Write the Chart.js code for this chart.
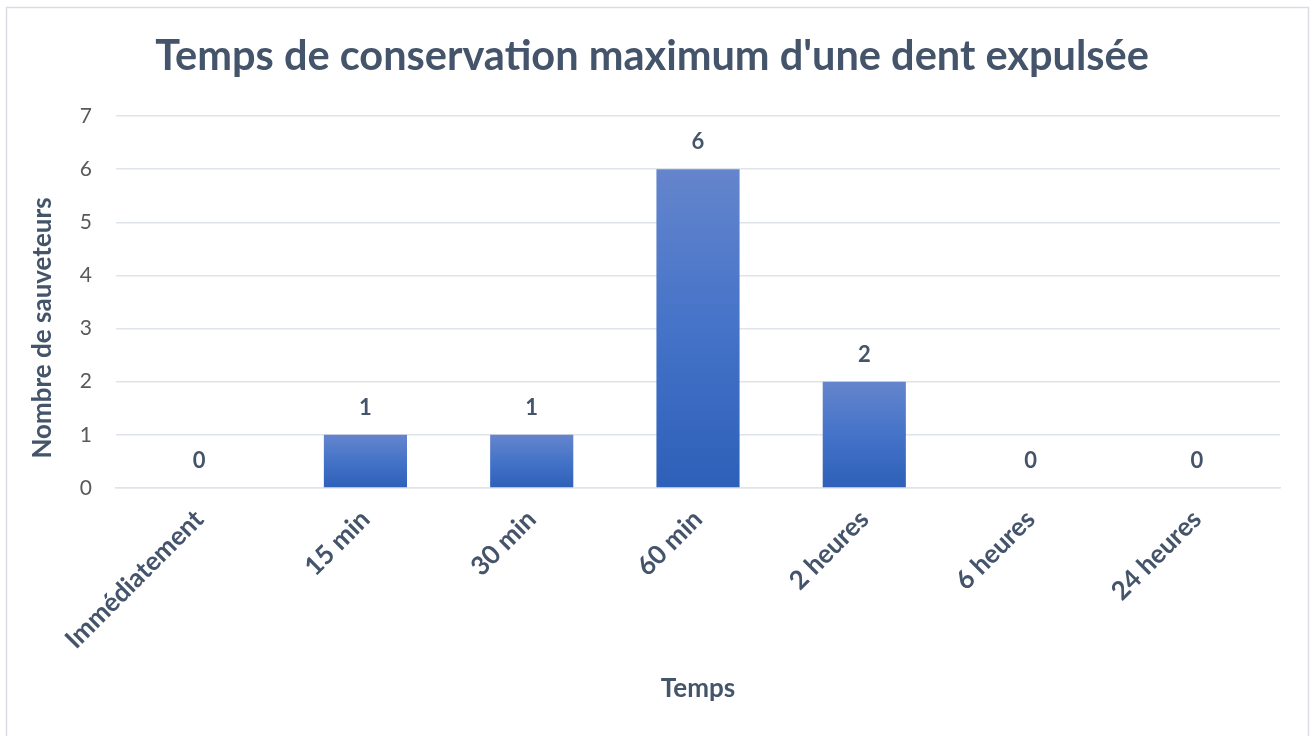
<!DOCTYPE html>
<html>
<head>
<meta charset="utf-8">
<script src="https://cdn.jsdelivr.net/npm/chart.js@4/dist/chart.umd.min.js"></script>
<style>
html,body{margin:0;padding:0;background:#fff;}
#wrap{position:absolute;left:0;top:0;width:1312px;height:736px;}
</style>
</head>
<body>
<div id="wrap"><canvas id="c" width="1312" height="736"></canvas></div>
<script>
const chartTitle = "Temps de conservation maximum d'une dent expulsée";
const categories = ["Immédiatement", "15 min", "30 min", "60 min", "2 heures", "6 heures", "24 heures"];
const counts = [0, 1, 1, 6, 2, 0, 0];
const yTitle = "Nombre de sauveteurs";
const xTitle = "Temps";
const yMin = 0, yMax = 7, yStep = 1;

const FONT = "Lato";
const DARK = "#44546a";

const borderPlugin = {
  id: 'outerBorder',
  beforeDraw(chart) {
    const ctx = chart.ctx;
    ctx.save();
    ctx.fillStyle = '#ffffff';
    ctx.fillRect(0, 0, chart.width, chart.height);
    ctx.strokeStyle = '#d9dde3';
    ctx.lineWidth = 1.5;
    ctx.strokeRect(6.5, 7.5, 1302, 800);
    ctx.restore();
  }
};

const labelPlugin = {
  id: 'valueLabels',
  afterDatasetsDraw(chart) {
    const ctx = chart.ctx;
    const meta = chart.getDatasetMeta(0);
    ctx.save();
    ctx.font = "bold 22px " + FONT;
    ctx.fillStyle = DARK;
    ctx.textAlign = 'center';
    ctx.textBaseline = 'middle';
    meta.data.forEach((bar, i) => {
      ctx.fillText(String(counts[i]), bar.x, bar.y - 27);
    });
    // y axis title, centred a little below the plot centre as in the reference
    const ca = chart.chartArea;
    ctx.font = "bold 26px " + FONT;
    ctx.translate(43, (ca.top + ca.bottom) / 2 + 26);
    ctx.rotate(-Math.PI / 2);
    ctx.fillText(yTitle, 0, 0);
    ctx.restore();
  }
};

function barGradient(context) {
  const chart = context.chart;
  const y = chart.scales.y;
  if (!chart.chartArea || !y || context.raw === undefined) return '#4472c4';
  const top = y.getPixelForValue(context.raw);
  const base = y.getPixelForValue(0);
  if (!isFinite(top) || !isFinite(base) || Math.abs(base - top) < 1) return '#4472c4';
  const g = chart.ctx.createLinearGradient(0, top, 0, base);
  g.addColorStop(0, '#6585cd');
  g.addColorStop(0.5, '#4473c8');
  g.addColorStop(1, '#2e60b9');
  return g;
}

new Chart(document.getElementById('c'), {
  type: 'bar',
  data: {
    labels: categories,
    datasets: [{
      data: counts,
      backgroundColor: barGradient,
      borderWidth: 0,
      barPercentage: 0.5,
      categoryPercentage: 1.0
    }]
  },
  options: {
    responsive: false,
    animation: false,
    devicePixelRatio: 1,
    layout: { padding: { left: 24, right: 32, top: 0, bottom: 28 } },
    plugins: {
      legend: { display: false },
      tooltip: { enabled: false },
      title: {
        display: true,
        text: chartTitle,
        color: DARK,
        font: { family: FONT, size: 41.5, weight: 'bold', lineHeight: 1.2 },
        padding: { top: 32, bottom: 34.2 }
      }
    },
    scales: {
      x: {
        grid: { display: false, drawTicks: false },
        border: { display: true, color: '#dfe3ea', width: 1.5 },
        ticks: {
          autoSkip: false,
          maxRotation: 45,
          minRotation: 45,
          padding: 16,
          color: DARK,
          font: { family: FONT, size: 26, weight: 'bold' }
        },
        title: {
          display: true,
          text: xTitle,
          color: DARK,
          font: { family: FONT, size: 26, weight: 'bold', lineHeight: 1.2 },
          padding: { top: 4, bottom: 4 }
        },
        afterFit(scale) { scale.height = 220; }
      },
      y: {
        min: yMin,
        max: yMax,
        ticks: {
          stepSize: yStep,
          padding: 24,
          color: '#595959',
          font: { family: FONT, size: 21 }
        },
        grid: { color: '#dfe3ea', lineWidth: 1.5, drawTicks: false },
        border: { display: false },
        title: { display: false },
        afterFit(scale) { scale.width = 92; }
      }
    }
  },
  plugins: [borderPlugin, labelPlugin]
});
</script>
</body>
</html>
